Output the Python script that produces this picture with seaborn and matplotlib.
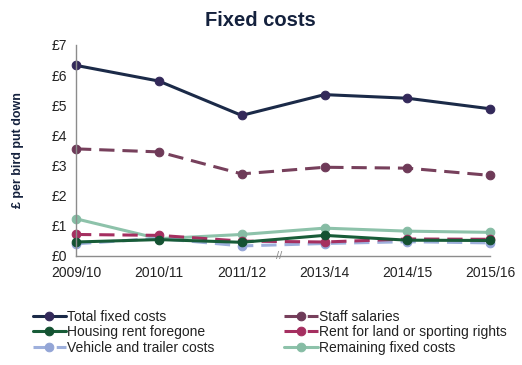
import pandas as pd
import matplotlib
matplotlib.use('Agg')
import matplotlib.pyplot as plt
import seaborn as sns

# Data
years = ['2009/10', '2010/11', '2011/12', '2013/14', '2014/15', '2015/16']
total_fixed = [6.32, 5.80, 4.66, 5.35, 5.23, 4.88]
staff_salaries = [3.55, 3.45, 2.72, 2.94, 2.91, 2.67]
housing_rent = [0.46, 0.54, 0.45, 0.68, 0.52, 0.51]
rent_land = [0.71, 0.68, 0.49, 0.46, 0.56, 0.55]
vehicle = [0.40, 0.58, 0.33, 0.41, 0.47, 0.43]
remaining = [1.23, 0.57, 0.71, 0.92, 0.82, 0.78]

series = {
    'Total fixed costs': total_fixed,
    'Staff salaries': staff_salaries,
    'Housing rent foregone': housing_rent,
    'Rent for land or sporting rights': rent_land,
    'Vehicle and trailer costs': vehicle,
    'Remaining fixed costs': remaining,
}
# (line colour, marker colour, dashed?)
styles = {
    'Total fixed costs': ('#1b2a48', '#33295a', False),
    'Staff salaries': ('#77405c', '#6e3a58', True),
    'Housing rent foregone': ('#185c38', '#145232', False),
    'Rent for land or sporting rights': ('#a52f60', '#a52f60', True),
    'Vehicle and trailer costs': ('#9eb0dc', '#93a5d6', True),
    'Remaining fixed costs': ('#8dc2aa', '#86bca4', False),
}

sns.set_style('white')
plt.rcParams['font.family'] = ['Liberation Sans', 'DejaVu Sans']

fig = plt.figure(figsize=(5.22, 3.65), dpi=100)
ax = fig.add_axes([0.1456, 0.299, 0.7935, 0.578])

x = list(range(len(years)))
# draw back-to-front so the total sits on top
for name in ['Remaining fixed costs', 'Vehicle and trailer costs', 'Rent for land or sporting rights',
             'Housing rent foregone', 'Staff salaries', 'Total fixed costs']:
    lc, mc, dashed = styles[name]
    df = pd.DataFrame({'x': x, 'y': series[name]})
    sns.lineplot(data=df, x='x', y='y', ax=ax, color=lc, lw=2.2,
                 linestyle=(0, (5, 2.6)) if dashed else '-',
                 marker='o', markersize=6.2, markerfacecolor=mc, markeredgecolor=mc,
                 label=name, clip_on=False)

ax.set_xlim(0, 5)
ax.set_ylim(0, 7)
ax.set_xticks(x)
ax.set_xticklabels(years, fontsize=10, color='#222222')
ax.set_yticks(range(8))
ax.set_yticklabels([f'£{v}' for v in range(8)], fontsize=10, color='#222222')
ax.set_xlabel('')
ax.set_ylabel('£ per bird put down', fontsize=9, fontweight='bold', labelpad=20, color='#14213d')

for s in ['top', 'right']:
    ax.spines[s].set_visible(False)
for s in ['left', 'bottom']:
    ax.spines[s].set_color('#8c8c8c')
    ax.spines[s].set_linewidth(1)
ax.tick_params(axis='both', direction='out', length=4.5, color='#8c8c8c', width=1, pad=2)
ax.tick_params(axis='x', pad=3)

# axis break mark
ax.text(2.45, 0, '//', fontsize=8, color='#8c8c8c', ha='center', va='center', clip_on=False)

fig.text(0.498, 0.945, 'Fixed costs', fontsize=14.5, fontweight='bold', ha='center', va='center',
         color='#14213d')

handles, labels = ax.get_legend_handles_labels()
order = ['Total fixed costs', 'Housing rent foregone', 'Vehicle and trailer costs',
         'Staff salaries', 'Rent for land or sporting rights', 'Remaining fixed costs']
hmap = dict(zip(labels, handles))
ax.legend([hmap[n] for n in order], order, ncol=2, loc='upper left',
          bbox_to_anchor=(-0.118, -0.229), frameon=False, fontsize=10,
          handlelength=2.4, handletextpad=0.1, labelspacing=0.1, columnspacing=5.0,
          borderaxespad=0)
for t in ax.get_legend().get_texts():
    t.set_color('#222222')

fig.savefig('out.png', dpi=100)
